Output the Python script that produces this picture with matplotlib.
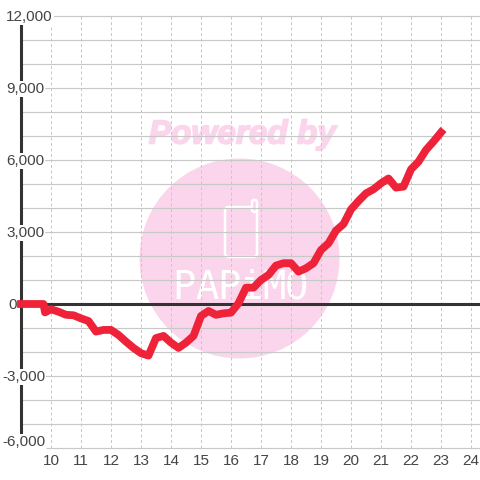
import matplotlib
matplotlib.use('Agg')
import matplotlib.pyplot as plt
import matplotlib.patheffects as pe
from matplotlib.patches import Circle, FancyBboxPatch

hours = [9, 9.25, 9.5, 9.75, 9.8, 10, 10.25, 10.5, 10.75, 11, 11.25, 11.5, 11.75, 12,
         12.25, 12.5, 12.75, 13, 13.25, 13.5, 13.75, 14, 14.25, 14.5, 14.75, 15, 15.25,
         15.5, 15.75, 16, 16.25, 16.5, 16.75, 17, 17.25, 17.5, 17.75, 18, 18.25, 18.5,
         18.75, 19, 19.25, 19.5, 19.75, 20, 20.25, 20.5, 20.75, 21, 21.25, 21.5, 21.75,
         22, 22.25, 22.5, 22.75, 23]
values = [0, 0, 0, 0, -350, -220, -320, -450, -470, -600, -710, -1150, -1080, -1080,
          -1290, -1570, -1830, -2050, -2150, -1420, -1330, -1610, -1830, -1610, -1330,
          -500, -290, -450, -390, -360, 30, 680, 680, 1000, 1210, 1600, 1700, 1700, 1350,
          1490, 1700, 2250, 2530, 3060, 3330, 3940, 4290, 4610, 4780, 5030, 5230, 4850,
          4890, 5610, 5930, 6420, 6770, 7150]

x_ticks = list(range(10, 25))
y_ticks = [-6000, -3000, 0, 3000, 6000, 9000, 12000]
y_labels = ['-6,000', '-3,000', '0', '3,000', '6,000', '9,000', '12,000']
y_label_left = [2, 2, 8, 6, 6, 6, 6]
y_label_shift = [6, -1, -1, -1, -1, -1, -1]

red = '#ee2238'
dark = '#333333'
grid = '#c8c8c8'
pink = '#fbd5ec'
text_col = '#444444'

plt.rcParams['font.family'] = ['Liberation Sans', 'DejaVu Sans']

W = 480
fig = plt.figure(figsize=(4.8, 4.8), dpi=100)
ax = fig.add_axes([21 / W, 32 / W, 459 / W, 432 / W])
ax.patch.set_visible(False)
ax.set_xlim(9, 24.3)
ax.set_ylim(-6000, 12000)


def fx(px):
    return px / W


def fy(py):
    return 1 - py / W


# watermark
fig.add_artist(Circle((fx(239.5), fy(258.5)), 100 / W, color=pink, lw=0, zorder=-3))
fig.text(fx(242.5), fy(135), 'Powered by', color=pink, fontsize=24, fontweight='bold',
         fontstyle='italic', ha='center', va='center', zorder=-2,
         path_effects=[pe.withStroke(linewidth=1.2, foreground=pink)])
fig.add_artist(FancyBboxPatch((fx(225), fy(257)), 32 / W, 50 / W,
                              boxstyle='round,pad=0,rounding_size=0.008',
                              fc='none', ec='white', lw=1.8, zorder=-2))
fig.add_artist(FancyBboxPatch((fx(252), fy(212)), 5 / W, 12 / W,
                              boxstyle='round,pad=0,rounding_size=0.005',
                              fc=pink, ec='white', lw=1.8, zorder=-2))
for i, ch in enumerate('PAPiMO'):
    fig.text(fx(184 + i * 22.5), fy(288), ch, color='white', fontsize=28,
             family='DejaVu Sans Mono', ha='center', va='center', zorder=-2)

# grid
ax.set_axisbelow(True)
ax.set_xticks(x_ticks)
ax.set_yticks(range(-6000, 12001, 1000))
ax.tick_params(length=0, labelleft=False, labelbottom=False)
ax.grid(axis='y', color=grid, lw=0.85)
ax.grid(axis='x', color=grid, lw=0.72, linestyle=(0, (3, 2.5)))
for l in ax.get_ygridlines():
    l.set_clip_on(False)
# bottom line stops short of the axis, the label sits over it
ax.get_ygridlines()[0].set_visible(False)
ax.hlines(-6000, 9.83, 24.3, color=grid, lw=0.85, zorder=0.5, clip_on=False)

for s in ['top', 'right', 'bottom']:
    ax.spines[s].set_visible(False)
ax.spines['left'].set_color(dark)
ax.spines['left'].set_linewidth(2.2)
ax.spines['left'].set_bounds(-5500, 11670)
ax.spines['left'].set_zorder(2)
ax.axhline(0, color=dark, lw=2.2, zorder=2)

for v, lab, left, shift in zip(y_ticks, y_labels, y_label_left, y_label_shift):
    ax.annotate(lab, xy=(0, v), xycoords=('axes fraction', 'data'),
                xytext=(left - 21, shift), textcoords='offset pixels', ha='left',
                va='center', fontsize=11, color=text_col, zorder=3,
                bbox=dict(fc='white', ec='none', pad=0.8))
for h in x_ticks:
    ax.annotate(str(h), xy=(h, 0), xycoords=('data', 'axes fraction'),
                xytext=(0, -13), textcoords='offset pixels', ha='center',
                va='center', fontsize=11, color=text_col, zorder=3)

ax.plot(hours, values, color=red, lw=5.6, solid_capstyle='projecting',
        solid_joinstyle='round', clip_on=False, zorder=4)

fig.savefig('out.png', dpi=100)
